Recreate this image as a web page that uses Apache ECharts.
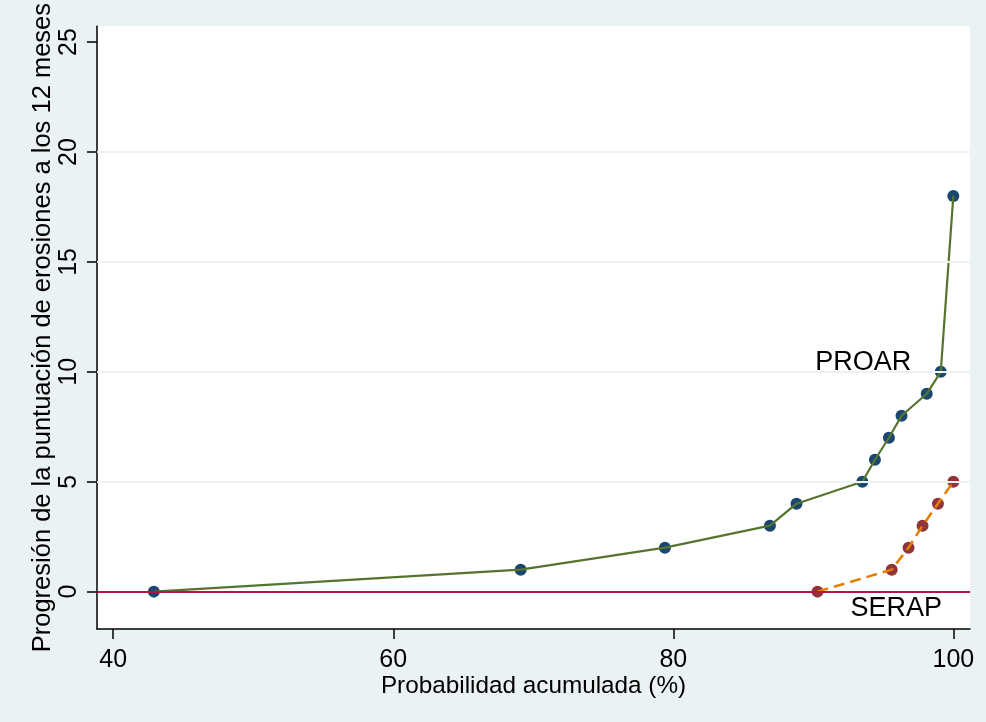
<!DOCTYPE html>
<html>
<head>
<meta charset="utf-8">
<title>Progresión de erosiones</title>
<script src="https://cdn.jsdelivr.net/npm/echarts@6/dist/echarts.min.js"></script>
<style>
  html, body { margin: 0; padding: 0; background: #eaf2f3; }
  #chart { width: 986px; height: 722px; }
</style>
</head>
<body>
<div id="chart"></div>
<script>
// Cumulative probability (%) and 12-month erosion score progression
const proarX = [42.9, 69.1, 79.4, 86.9, 88.8, 93.5, 94.4, 95.4, 96.3, 98.1, 99.1, 100];
const proarY = [0, 1, 2, 3, 4, 5, 6, 7, 8, 9, 10, 18];
const serapX = [90.3, 95.6, 96.8, 97.8, 98.9, 100];
const serapY = [0, 1, 2, 3, 4, 5];

const xTicks = [40, 60, 80, 100];
const yTicks = [0, 5, 10, 15, 20, 25];
const gridValues = [5, 10, 15, 20];

const FONT = 'Liberation Sans, Arial, sans-serif';
const FS = 25;

const zip = (xs, ys) => xs.map((x, i) => [x, ys[i]]);

const chart = echarts.init(document.getElementById('chart'), null, { renderer: 'canvas' });

chart.setOption({
  backgroundColor: '#eaf2f3',
  animation: false,
  grid: { left: 97, right: 16, top: 25, bottom: 93, show: true, backgroundColor: '#ffffff', borderWidth: 0 },
  xAxis: {
    type: 'value',
    min: 38.84,
    max: 101.19,
    name: 'Probabilidad acumulada (%)',
    nameLocation: 'middle',
    nameGap: 45,
    nameMoveOverlap: false,
    nameTextStyle: { color: '#000', fontFamily: FONT, fontSize: 24.3 },
    axisLine: { show: true, onZero: false, lineStyle: { color: '#000', width: 1.5 } },
    axisTick: { show: true, length: 10, customValues: xTicks, lineStyle: { color: '#000', width: 1.5 } },
    axisLabel: { customValues: xTicks, margin: 19, color: '#000', fontFamily: FONT, fontSize: FS },
    splitLine: { show: false }
  },
  yAxis: {
    type: 'value',
    min: -1.70,
    max: 25.72,
    name: 'Progresión de la puntuación de erosiones a los 12 meses',
    nameLocation: 'middle',
    nameGap: 41,
    nameMoveOverlap: false,
    nameTextStyle: { color: '#000', fontFamily: FONT, fontSize: 25.5 },
    axisLine: { show: true, onZero: false, lineStyle: { color: '#000', width: 1.5 } },
    axisTick: { show: true, length: 10, customValues: yTicks, lineStyle: { color: '#000', width: 1.5 } },
    axisLabel: { customValues: yTicks, rotate: 90, margin: 15, color: '#000', fontFamily: FONT, fontSize: FS },
    splitLine: { show: false }
  },
  series: [
    {
      // horizontal gridlines and the zero reference line
      type: 'line',
      data: [],
      z: 1,
      markLine: {
        silent: true,
        symbol: 'none',
        label: { show: false },
        data: gridValues.map(v => ({ yAxis: v, lineStyle: { color: '#eaf2f3', width: 2, type: 'solid' } }))
          .concat([{ yAxis: 0, lineStyle: { color: '#b5163f', width: 2, type: 'solid' } }])
      }
    },
    {
      name: 'PROAR puntos',
      type: 'scatter',
      data: zip(proarX, proarY),
      symbol: 'circle',
      symbolSize: 12,
      itemStyle: { color: '#1a476f', opacity: 1 },
      z: 3
    },
    {
      name: 'SERAP puntos',
      type: 'scatter',
      data: zip(serapX, serapY),
      symbol: 'circle',
      symbolSize: 12,
      itemStyle: { color: '#90353b', opacity: 1 },
      z: 3
    },
    {
      name: 'PROAR',
      type: 'line',
      data: zip(proarX, proarY),
      showSymbol: false,
      lineStyle: { color: '#55752f', width: 2.2 },
      z: 4,
      markPoint: {
        symbol: 'circle',
        symbolSize: 0,
        label: { show: true, formatter: 'PROAR', color: '#000', fontFamily: FONT, fontSize: 27, position: 'inside' },
        data: [{ coord: [93.57, 10.41] }]
      }
    },
    {
      name: 'SERAP',
      type: 'line',
      data: zip(serapX, serapY),
      showSymbol: false,
      lineStyle: { color: '#e37e00', width: 2.5, type: [11, 6] },
      z: 4,
      markPoint: {
        symbol: 'circle',
        symbolSize: 0,
        label: { show: true, formatter: 'SERAP', color: '#000', fontFamily: FONT, fontSize: 27, position: 'inside' },
        data: [{ coord: [95.93, -0.77] }]
      }
    }
  ]
});
</script>
</body>
</html>
